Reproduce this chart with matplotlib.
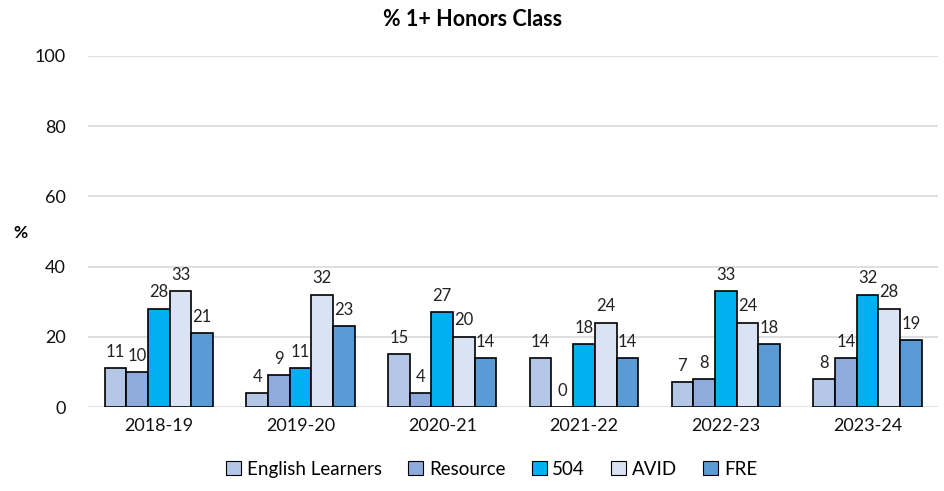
import matplotlib
matplotlib.use("Agg")
import matplotlib.pyplot as plt
import numpy as np

plt.rcParams['font.family'] = ['Lato', 'DejaVu Sans']

years = ["2018-19", "2019-20", "2020-21", "2021-22", "2022-23", "2023-24"]
groups = ["English Learners", "Resource", "504", "AVID", "FRE"]
english_learners = [11, 4, 15, 14, 7, 8]
resource = [10, 9, 4, 0, 8, 14]
sec_504 = [28, 11, 27, 18, 33, 32]
avid = [33, 32, 20, 24, 24, 28]
fre = [21, 23, 14, 14, 18, 19]
series = [english_learners, resource, sec_504, avid, fre]
colors = ["#B4C7E7", "#8FAADC", "#00B0F0", "#DAE3F3", "#5B9BD5"]
yticks = [0, 20, 40, 60, 80, 100]

fig = plt.figure(figsize=(9.45, 4.91), dpi=100)
ax = fig.add_axes([0.093, 0.171, 0.900, 0.715])

x = np.arange(len(years))
width = 0.153
for i, (vals, col, name) in enumerate(zip(series, colors, groups)):
    pos = x + (i - 2) * width
    bars = ax.bar(pos, vals, width, color=col, edgecolor="black",
                  linewidth=1.2, label=name, zorder=3)
    for b, v in zip(bars, vals):
        ax.annotate(f"{v}", (b.get_x() + b.get_width() / 2, v),
                    xytext=(0, 6), textcoords="offset points",
                    ha="center", va="bottom", fontsize=12, color="#222222")

ax.set_xlim(-0.5, len(years) - 0.5)
ax.set_ylim(0, 100)
ax.set_yticks(yticks)
ax.set_xticks(x)
ax.set_xticklabels(years)
ax.tick_params(axis="both", length=0, labelsize=13, colors="#111111")
ax.tick_params(axis="y", pad=16)
ax.tick_params(axis="x", pad=8)
ax.grid(axis="y", color="#D9D9D9", linewidth=1.2, zorder=0)
for s in ax.spines.values():
    s.set_visible(False)

fig.text(0.014, 0.525, "%", fontsize=12.5, fontweight="bold", ha="left", va="center")
fig.suptitle("% 1+ Honors Class", y=0.982, fontsize=15.5, fontweight="bold")

leg = ax.legend(loc="upper center", bbox_to_anchor=(0.475, -0.105), ncol=5,
                frameon=False, fontsize=13.5, handlelength=0.8,
                handleheight=0.8, handletextpad=0.3, columnspacing=1.4)
for h in leg.legend_handles:
    h.set_linewidth(0.8)

fig.savefig("out.png", dpi=100)
